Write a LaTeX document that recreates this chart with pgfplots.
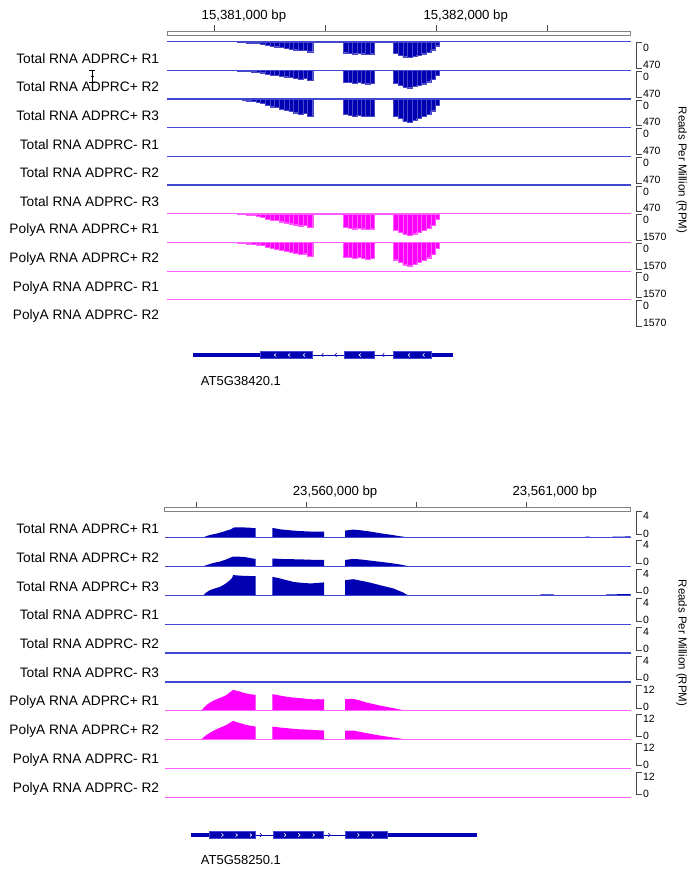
\documentclass[border=0pt]{standalone}
\usepackage{pgfplots}
\pgfplotsset{compat=1.18}
\usepackage{pgfplotstable}
\usepackage{fontspec}
\setmainfont{Liberation Sans}

\definecolor{igvblue}{RGB}{0,0,178}
\definecolor{blueline}{RGB}{62,72,208}
\definecolor{igvmag}{RGB}{255,0,255}
\definecolor{magline}{RGB}{255,95,255}
\definecolor{rulergray}{RGB}{130,130,130}
\definecolor{scalegray}{RGB}{70,70,70}

% ---------- AT5G38420 locus: binned coverage (RPM), x = bp relative to 15,381,000 ----------
\pgfplotstableread{
x y
103 5
124 10
145 16
166 21
187 28
208 38
229 61
250 74
271 82
292 95
313 107
334 118
355 131
376 143
397 136
418 164
442 0
580 180
600 185
620 197
640 185
660 197
680 202
700 197
717 0
805 192
826 221
847 246
868 257
889 238
910 216
931 197
952 169
973 131
994 66
1012 0
}\upTa
\pgfplotstableread{
x y
103 5
124 10
145 15
166 20
187 27
208 37
229 59
250 72
271 80
292 92
313 104
334 115
355 127
376 139
397 132
418 159
442 0
580 194
600 200
620 213
640 200
660 213
680 218
700 210
717 0
805 211
826 243
847 271
868 283
889 262
910 238
931 217
952 186
973 144
994 73
1012 0
}\upTb
\pgfplotstableread{
x y
103 8
124 17
145 27
166 36
187 48
208 65
229 104
250 126
271 139
292 162
313 182
334 201
355 223
376 243
397 231
418 279
442 0
580 252
600 259
620 276
640 259
660 276
680 283
700 276
717 0
805 278
826 320
847 357
868 373
889 345
910 313
931 286
952 245
973 190
994 96
1012 0
}\upTc
\pgfplotstableread{
x y
103 22
124 45
145 75
166 97
187 128
208 172
229 278
250 338
271 375
292 435
313 487
334 540
355 600
376 653
397 623
418 750
442 0
580 753
600 773
620 821
640 773
660 821
680 842
700 821
717 0
805 884
826 1020
847 1134
868 1189
889 1096
910 998
931 907
952 779
973 605
994 302
1012 0
}\upPa
\pgfplotstableread{
x y
103 20
124 43
145 72
166 95
187 126
208 170
229 272
250 335
271 372
292 430
313 484
334 536
355 596
376 650
397 620
418 748
442 0
580 801
600 823
620 874
640 823
660 874
680 896
700 874
717 0
805 949
826 1094
847 1216
868 1272
889 1175
910 1070
931 973
952 835
973 648
994 324
1012 0
}\upPb

% ---------- AT5G58250 locus: coverage (RPM), x = bp relative to 23,560,000 ----------
\pgfplotstableread{
x y
-470 0
-455 0.18
-440 0.32
-425 0.42
-410 0.51
-394 0.65
-379 0.78
-364 0.93
-350 1.05
-340 1.18
-334 1.34
-322 1.38
-310 1.37
-298 1.38
-288 1.37
-274 1.35
-260 1.33
-246 1.29
-232 1.25
-232 0
-156 0
-156 1.29
-140 1.22
-121 1.11
-105 1.06
-90 1.01
-75 0.97
-61 0.93
-40 0.88
-20 0.85
0 0.82
15 0.80
35 0.80
50 0.79
65 0.79
79 0.78
79 0
175 0
175 0.93
190 0.99
212 1.07
228 1.03
242 0.99
258 0.92
273 0.86
288 0.80
303 0.72
318 0.65
333 0.57
348 0.50
364 0.43
379 0.37
394 0.30
409 0.22
424 0.15
440 0.08
462 0
1260 0
1268 0.08
1285 0.08
1292 0
1380 0
1395 0.10
1472 0.12
}\loTa
\pgfplotstableread{
x y
-470 0
-455 0.16
-440 0.32
-425 0.45
-410 0.55
-394 0.65
-379 0.80
-364 0.97
-350 1.15
-334 1.34
-322 1.33
-310 1.34
-298 1.30
-288 1.29
-274 1.24
-260 1.15
-246 1.08
-232 1.01
-232 0
-156 0
-156 1.07
-140 1.05
-121 1.01
-90 0.99
-61 0.97
-30 0.95
0 0.92
15 0.90
50 0.89
79 0.87
79 0
175 0
175 0.87
195 0.95
212 1.01
228 0.98
242 0.95
273 0.84
303 0.73
333 0.62
364 0.51
394 0.38
424 0.25
445 0.12
462 0
}\loTb
\pgfplotstableread{
x y
-470 0
-455 0.40
-440 0.69
-425 0.86
-410 1.00
-394 1.15
-379 1.40
-364 1.70
-350 2.05
-340 2.35
-334 2.77
-322 2.75
-310 2.72
-298 2.70
-288 2.67
-274 2.66
-260 2.65
-246 2.64
-232 2.63
-232 0
-156 0
-156 2.53
-140 2.44
-121 2.31
-105 2.18
-90 2.06
-75 1.95
-61 1.84
-40 1.76
-20 1.70
0 1.66
15 1.62
35 1.66
50 1.70
65 1.74
79 1.76
79 0
175 0
175 2.08
195 2.15
212 2.21
228 2.12
242 2.02
258 1.93
273 1.84
303 1.62
333 1.38
364 1.15
394 0.93
420 0.60
440 0.35
450 0.14
462 0
1060 0
1063 0.10
1122 0.10
1125 0
1360 0
1362 0.12
1472 0.14
}\loTc
\pgfplotstableread{
x y
-480 0
-468 1.30
-455 2.49
-440 3.40
-425 4.20
-409 4.86
-394 5.40
-379 5.95
-364 6.64
-350 7.70
-334 8.72
-320 8.40
-303 8.00
-290 7.60
-275 7.25
-260 6.95
-246 6.80
-232 6.64
-232 0
-156 0
-156 6.93
-140 6.70
-121 6.35
-105 6.10
-90 5.85
-75 5.70
-61 5.52
-40 5.35
-20 5.20
0 5.00
15 4.86
35 4.80
50 4.86
65 4.80
79 4.86
79 0
175 0
175 4.86
195 4.95
212 4.98
230 4.60
250 4.10
273 3.44
303 2.85
333 2.20
364 1.65
394 1.12
420 0.65
440 0.30
455 0.12
462 0
1070 0
1075 0.10
1100 0.10
1105 0
1180 0
1185 0.10
1200 0
1400 0
1410 0.10
1472 0.12
}\loPa
\pgfplotstableread{
x y
-480 0
-468 1.10
-455 2.08
-440 2.90
-425 3.70
-409 4.44
-394 5.05
-379 5.60
-364 6.23
-350 7.05
-334 7.89
-320 7.40
-303 6.93
-290 6.55
-275 6.20
-260 5.90
-246 5.70
-232 5.52
-232 0
-156 0
-156 5.52
-140 5.30
-121 5.10
-90 4.85
-61 4.57
-30 4.35
0 4.25
15 4.15
50 3.98
79 3.86
79 0
175 0
175 3.86
212 3.86
240 3.35
273 2.78
303 2.25
333 1.78
364 1.35
394 0.95
420 0.60
440 0.30
455 0.12
462 0
}\loPb

\pgfplotsset{
  trk/.style={scale only axis, hide axis, enlargelimits=false, clip=false,
    anchor=center, ymin=0},
  uptrk/.style={trk, width=463.4pt, height=28.67pt, xmin=-211.3, xmax=1872.3,
    y dir=reverse},
  lotrk/.style={trk, width=466.2pt, height=28.93pt, xmin=-646.4, xmax=1472.7},
  genetrk/.style={scale only axis, hide axis, enlargelimits=false, clip=false,
    anchor=center, height=10pt, ymin=-5, ymax=5},
  bbars/.style={ybar interval, fill=igvblue, draw=igvblue!72!white, line width=0.15pt},
  mbars/.style={ybar interval, fill=igvmag, draw=igvmag!65!white, line width=0.15pt},
  bline/.style={blueline, line width=1.1pt},
  mline/.style={magline, line width=1.1pt},
}
\tikzset{
  exonbox/.style={fill=igvblue, draw=blueline, line width=0.5pt},
  chev/.style={white, line width=0.6pt},
  ichev/.style={igvblue, line width=0.6pt},
}
\newcommand\labfont{\fontsize{13.7pt}{16pt}\selectfont}
\newcommand\rulfont{\fontsize{13.2pt}{16pt}\selectfont}
\newcommand\scfont{\fontsize{10.5pt}{12pt}\selectfont}

\begin{document}
\begin{tikzpicture}
\path[use as bounding box] (0,0) rectangle (688pt,-870pt);

% ================= upper panel: AT5G38420 =================
\draw[rulergray, line width=0.8pt, fill=white] (167.3pt,-31pt) rectangle (630.7pt,-35pt);
\foreach \x in {214.3,325.7,436.7,547.3}
  \draw[black!70, line width=0.8pt] (\x pt,-31pt) -- (\x pt,-25pt);
\node[anchor=west, inner sep=0, font=\rulfont] at (201.5pt,-15.7pt) {15,381,000 bp};
\node[anchor=west, inner sep=0, font=\rulfont] at (423.3pt,-15.7pt) {15,382,000 bp};

\begin{axis}[uptrk, at={(399pt,-56.03pt)}, ymax=470]
  \addplot[bbars] table {\upTa};
  \addplot[bline] coordinates {(-211.3,0) (1872.3,0)};
\end{axis}
\begin{axis}[uptrk, at={(399pt,-84.70pt)}, ymax=470]
  \addplot[bbars] table {\upTb};
  \addplot[bline] coordinates {(-211.3,0) (1872.3,0)};
\end{axis}
\begin{axis}[uptrk, at={(399pt,-113.37pt)}, ymax=470]
  \addplot[bbars] table {\upTc};
  \addplot[bline] coordinates {(-211.3,0) (1872.3,0)};
\end{axis}
\begin{axis}[uptrk, at={(399pt,-142.04pt)}, ymax=470]
  \addplot[bline] coordinates {(-211.3,0) (1872.3,0)};
\end{axis}
\begin{axis}[uptrk, at={(399pt,-170.71pt)}, ymax=470]
  \addplot[bline] coordinates {(-211.3,0) (1872.3,0)};
\end{axis}
\begin{axis}[uptrk, at={(399pt,-199.38pt)}, ymax=470]
  \addplot[bline] coordinates {(-211.3,0) (1872.3,0)};
\end{axis}
\begin{axis}[uptrk, at={(399pt,-228.05pt)}, ymax=1570]
  \addplot[mbars] table {\upPa};
  \addplot[mline] coordinates {(-211.3,0) (1872.3,0)};
\end{axis}
\begin{axis}[uptrk, at={(399pt,-256.72pt)}, ymax=1570]
  \addplot[mbars] table {\upPb};
  \addplot[mline] coordinates {(-211.3,0) (1872.3,0)};
\end{axis}
\begin{axis}[uptrk, at={(399pt,-285.39pt)}, ymax=1570]
  \addplot[mline] coordinates {(-211.3,0) (1872.3,0)};
\end{axis}
\begin{axis}[uptrk, at={(399pt,-314.06pt)}, ymax=1570]
  \addplot[mline] coordinates {(-211.3,0) (1872.3,0)};
\end{axis}

% track names
\foreach \lab [count=\i from 0] in {Total RNA ADPRC+ R1, Total RNA ADPRC+ R2,
    Total RNA ADPRC+ R3, Total RNA ADPRC- R1, Total RNA ADPRC- R2,
    Total RNA ADPRC- R3, PolyA RNA ADPRC+ R1, PolyA RNA ADPRC+ R2,
    PolyA RNA ADPRC- R1, PolyA RNA ADPRC- R2} {
  \pgfmathsetmacro\yy{58.3+28.67*\i}
  \node[anchor=east, inner sep=0, font=\labfont] at (159.3pt,-\yy pt) {\lab};
}
% data-range brackets
\foreach \i in {0,...,9} {
  \pgfmathsetmacro\ytop{42.7+28.67*\i}
  \pgfmathsetmacro\ybot{\ytop+25.7}
  \pgfmathsetmacro\ya{\ytop+5.6}
  \pgfmathsetmacro\yb{\ybot-3.6}
  \ifnum\i<6 \def\mx{470}\else\def\mx{1570}\fi
  \draw[scalegray, line width=0.9pt] (641.7pt,-\ytop pt) -- (636.5pt,-\ytop pt)
     -- (636.5pt,-\ybot pt) -- (641.7pt,-\ybot pt);
  \node[anchor=west, inner sep=0, font=\scfont] at (642.8pt,-\ya pt) {0};
  \node[anchor=west, inner sep=0, font=\scfont] at (642.8pt,-\yb pt) {\mx};
}
\node[rotate=-90, inner sep=0, font=\fontsize{11.5pt}{13pt}\selectfont] at (681.7pt,-170pt) {Reads Per Million (RPM)};

% gene model (minus strand)
\begin{axis}[genetrk, width=463.4pt, xmin=-211.3, xmax=1872.3, at={(399pt,-355pt)}]
  \draw[igvblue, line width=1pt] (442,0) -- (583,0) (717,0) -- (805,0);
  \fill[igvblue] (-94,-2) rectangle (205,2);
  \fill[igvblue] (977,-2) rectangle (1072,2);
  \draw[exonbox] (205,-3.65) rectangle (442,3.65);
  \draw[exonbox] (583,-3.65) rectangle (717,3.65);
  \draw[exonbox] (805,-3.65) rectangle (977,3.65);
  \pgfplotsinvokeforeach{270,333,400,651,872,937}{
    \draw[chev] (#1,0) ++(1.8pt,1.6pt) -- ++(-1.8pt,-1.6pt) -- ++(1.8pt,-1.6pt);}
  \pgfplotsinvokeforeach{483,543,757}{
    \draw[ichev] (#1,0) ++(1.6pt,2pt) -- ++(-1.6pt,-2pt) -- ++(1.6pt,-2pt);}
\end{axis}
\node[anchor=west, inner sep=0, font=\fontsize{13pt}{15pt}\selectfont] at (200.7pt,-380.7pt) {AT5G38420.1};

% text cursor
\draw[black, line width=0.7pt] (89pt,-70.5pt) -- (95pt,-70.5pt) (92pt,-70.5pt) -- (92pt,-82.5pt)
  (89pt,-82.5pt) -- (95pt,-82.5pt) (90.5pt,-76.5pt) -- (93.5pt,-76.5pt);

% ================= lower panel: AT5G58250 =================
\draw[rulergray, line width=0.8pt, fill=white] (164.7pt,-507.3pt) rectangle (630.7pt,-511pt);
\foreach \x in {196.7,306.7,416.7,526.7}
  \draw[black!70, line width=0.8pt] (\x pt,-507.3pt) -- (\x pt,-501.7pt);
\node[anchor=west, inner sep=0, font=\rulfont] at (292.7pt,-491.7pt) {23,560,000 bp};
\node[anchor=west, inner sep=0, font=\rulfont] at (512.3pt,-491.7pt) {23,561,000 bp};

\begin{axis}[lotrk, at={(397.6pt,-522.85pt)}, ymax=4]
  \addplot[fill=igvblue, draw=none] table {\loTa} \closedcycle;
  \addplot[bline] coordinates {(-646.4,0) (1472.7,0)};
\end{axis}
\begin{axis}[lotrk, at={(397.6pt,-551.78pt)}, ymax=4]
  \addplot[fill=igvblue, draw=none] table {\loTb} \closedcycle;
  \addplot[bline] coordinates {(-646.4,0) (1472.7,0)};
\end{axis}
\begin{axis}[lotrk, at={(397.6pt,-580.71pt)}, ymax=4]
  \addplot[fill=igvblue, draw=none] table {\loTc} \closedcycle;
  \addplot[bline] coordinates {(-646.4,0) (1472.7,0)};
\end{axis}
\begin{axis}[lotrk, at={(397.6pt,-609.64pt)}, ymax=4]
  \addplot[bline] coordinates {(-646.4,0) (1472.7,0)};
\end{axis}
\begin{axis}[lotrk, at={(397.6pt,-638.57pt)}, ymax=4]
  \addplot[bline] coordinates {(-646.4,0) (1472.7,0)};
\end{axis}
\begin{axis}[lotrk, at={(397.6pt,-667.50pt)}, ymax=4]
  \addplot[bline] coordinates {(-646.4,0) (1472.7,0)};
\end{axis}
\begin{axis}[lotrk, at={(397.6pt,-696.43pt)}, ymax=12]
  \addplot[fill=igvmag, draw=none] table {\loPa} \closedcycle;
  \addplot[mline] coordinates {(-646.4,0) (1472.7,0)};
\end{axis}
\begin{axis}[lotrk, at={(397.6pt,-725.36pt)}, ymax=12]
  \addplot[fill=igvmag, draw=none] table {\loPb} \closedcycle;
  \addplot[mline] coordinates {(-646.4,0) (1472.7,0)};
\end{axis}
\begin{axis}[lotrk, at={(397.6pt,-754.29pt)}, ymax=12]
  \addplot[mline] coordinates {(-646.4,0) (1472.7,0)};
\end{axis}
\begin{axis}[lotrk, at={(397.6pt,-783.22pt)}, ymax=12]
  \addplot[mline] coordinates {(-646.4,0) (1472.7,0)};
\end{axis}

\foreach \lab [count=\i from 0] in {Total RNA ADPRC+ R1, Total RNA ADPRC+ R2,
    Total RNA ADPRC+ R3, Total RNA ADPRC- R1, Total RNA ADPRC- R2,
    Total RNA ADPRC- R3, PolyA RNA ADPRC+ R1, PolyA RNA ADPRC+ R2,
    PolyA RNA ADPRC- R1, PolyA RNA ADPRC- R2} {
  \pgfmathsetmacro\yy{528.3+28.93*\i}
  \node[anchor=east, inner sep=0, font=\labfont] at (159.3pt,-\yy pt) {\lab};
}
\foreach \i in {0,...,9} {
  \pgfmathsetmacro\ytop{511.7+28.93*\i}
  \pgfmathsetmacro\ybot{\ytop+22.7}
  \pgfmathsetmacro\ya{\ytop+4.3}
  \pgfmathsetmacro\yb{\ybot-1}
  \ifnum\i<6 \def\mx{4}\else\def\mx{12}\fi
  \draw[scalegray, line width=0.9pt] (641.7pt,-\ytop pt) -- (636.5pt,-\ytop pt)
     -- (636.5pt,-\ybot pt) -- (641.7pt,-\ybot pt);
  \node[anchor=west, inner sep=0, font=\scfont] at (642.8pt,-\ya pt) {\mx};
  \node[anchor=west, inner sep=0, font=\scfont] at (642.8pt,-\yb pt) {0};
}
\node[rotate=-90, inner sep=0, font=\fontsize{11.5pt}{13pt}\selectfont] at (681.7pt,-643pt) {Reads Per Million (RPM)};

% gene model (plus strand)
\begin{axis}[genetrk, width=466.2pt, xmin=-646.4, xmax=1472.7, at={(397.6pt,-835pt)}]
  \draw[igvblue, line width=1pt] (-232,0) -- (-152,0) (75,0) -- (177,0);
  \fill[igvblue] (-526,-2) rectangle (-443,2);
  \fill[igvblue] (368,-2) rectangle (773,2);
  \draw[exonbox] (-443,-3.65) rectangle (-232,3.65);
  \draw[exonbox] (-152,-3.65) rectangle (75,3.65);
  \draw[exonbox] (177,-3.65) rectangle (368,3.65);
  \pgfplotsinvokeforeach{-379,-315,-250,-94,-30,35,239,303}{
    \draw[chev] (#1,0) ++(-1.8pt,1.6pt) -- ++(1.8pt,-1.6pt) -- ++(-1.8pt,-1.6pt);}
  \pgfplotsinvokeforeach{-205,106}{
    \draw[ichev] (#1,0) ++(-1.6pt,2pt) -- ++(1.6pt,-2pt) -- ++(-1.6pt,-2pt);}
\end{axis}
\node[anchor=west, inner sep=0, font=\fontsize{13pt}{15pt}\selectfont] at (200.7pt,-860pt) {AT5G58250.1};
\end{tikzpicture}
\end{document}
